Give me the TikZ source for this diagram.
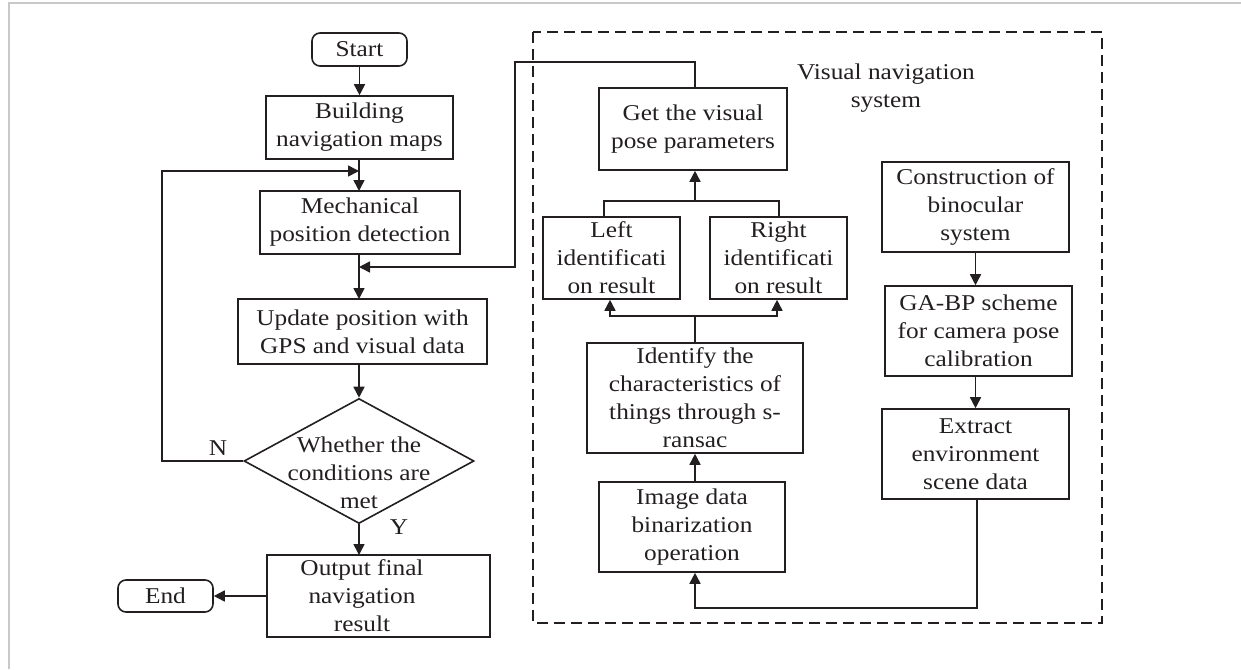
\documentclass[tikz,border=0pt]{standalone}
\usepackage{fontspec}
\setmainfont{Liberation Serif}[FakeStretch=1.12]
\usetikzlibrary{arrows.meta,shapes.geometric}
\definecolor{ink}{HTML}{231F20}
\definecolor{frame}{HTML}{C8C8C8}
\tikzset{
  box/.style={draw=ink, line width=1.6pt, align=center, inner sep=0pt, text=ink},
  term/.style={box, rounded corners=8pt},
  conn/.style={draw=ink, line width=1.6pt},
  arr/.style={conn, -{Triangle[length=11pt,width=11pt]}},
  txt/.style={align=center, inner sep=0pt, text=ink},
}
\begin{document}
\begin{tikzpicture}[x=1pt,y=-1pt, font=\fontsize{22.6}{28}\selectfont]
\useasboundingbox (0,0) rectangle (1241,669);
\draw[frame, line width=2pt] (9,669) -- (9,3) -- (1241,3);

% left column
\node[term, minimum width=95, minimum height=33] (start) at (359.5,49.5) {Start};
\node[box, minimum width=187, minimum height=63] (build) at (359.5,127.5) {Building\\navigation maps};
\node[box, minimum width=200, minimum height=63] (mech) at (360,222.5) {Mechanical\\position detection};
\node[box, minimum width=249, minimum height=65] (upd) at (362.5,331.5) {Update position with\\GPS and visual data};
\node[draw=ink, line width=1.6pt, diamond, inner sep=0pt, minimum width=230, minimum height=125] (dec) at (359,461) {};
\node[txt] (dectxt) at (359,473) {Whether the\\conditions are\\met};
\node[box, minimum width=223, minimum height=82] (out) at (378.5,596) {};
\node[txt] (outtxt) at (362,596) {Output final\\navigation\\result};
\node[term, minimum width=95, minimum height=32] (end) at (165.5,596) {End};
\node[txt] (n) at (218,448) {N};
\node[txt] (y) at (399,527) {Y};

% visual navigation system
\draw[ink, line width=1.4pt, dash pattern=on 11pt off 6pt] (533,32) rectangle (1102,623);
\node[txt] (vlabel) at (886,88) {Visual navigation\\system};
\node[box, minimum width=188, minimum height=82] (get) at (693,129) {Get the visual\\pose parameters};
\node[box, minimum width=137, minimum height=82] (left) at (611.5,258) {Left\\identificati\\on result};
\node[box, minimum width=137, minimum height=82] (right) at (778.5,258) {Right\\identificati\\on result};
\node[box, minimum width=216, minimum height=110] (ident) at (695,398) {Identify the\\characteristics of\\things through s-\\ransac};
\node[box, minimum width=186, minimum height=90] (img) at (692,527) {Image data\\binarization\\operation};
\node[box, minimum width=187, minimum height=90] (cons) at (975.5,207) {Construction of\\binocular\\system};
\node[box, minimum width=187, minimum height=90] (ga) at (978.5,331) {GA-BP scheme\\for camera pose\\calibration};
\node[box, minimum width=187, minimum height=90] (ext) at (975.5,454) {Extract\\environment\\scene data};

% helper coordinates
\coordinate (fbA) at (162,461);
\coordinate (fbB) at (162,171);
\coordinate (fbC) at (359,171);
\coordinate (vA) at (695,62);
\coordinate (vB) at (515,62);
\coordinate (vC) at (515,267);
\coordinate (vD) at (359,267);
\coordinate (tL) at (604,201);
\coordinate (tR) at (779,201);
\coordinate (tM) at (695,201);
\coordinate (bL) at (610,316);
\coordinate (bR) at (777,316);
\coordinate (bM) at (695,316);
\coordinate (eA) at (977,608);
\coordinate (eB) at (695,608);

% left column connectors
\draw[arr] (start.south) -- (build.north -| start.south);
\draw[arr] (359,159) -- (359,191);
\draw[arr] (359,254) -- (359,299);
\draw[arr] (359,364) -- (dec.north);
\draw[arr] (dec.south) -- (359,555);
\draw[arr] (out.west) -- (end.east);
\draw[arr] (dec.west) -- (fbA) -- (fbB) -- (fbC);
\draw[arr] (get.north -| vA) -- (vA) -- (vB) -- (vC) -- (vD);

% right part connectors
\draw[conn] (left.north -| tL) -- (tL) -- (tR) -- (right.north -| tR);
\draw[arr] (tM) -- (get.south -| tM);
\draw[conn] (ident.north) -- (bM);
\draw[arr] (bM) -- (bL) -- (left.south -| bL);
\draw[arr] (bM) -- (bR) -- (right.south -| bR);
\draw[arr] (img.north -| ident.south) -- (ident.south);
\draw[arr] (ext.south -| eA) -- (eA) -- (eB) -- (img.south -| eB);
\draw[arr] (cons.south) -- (ga.north -| cons.south);
\draw[arr] (ga.south -| cons.south) -- (ext.north);
\end{tikzpicture}
\end{document}
